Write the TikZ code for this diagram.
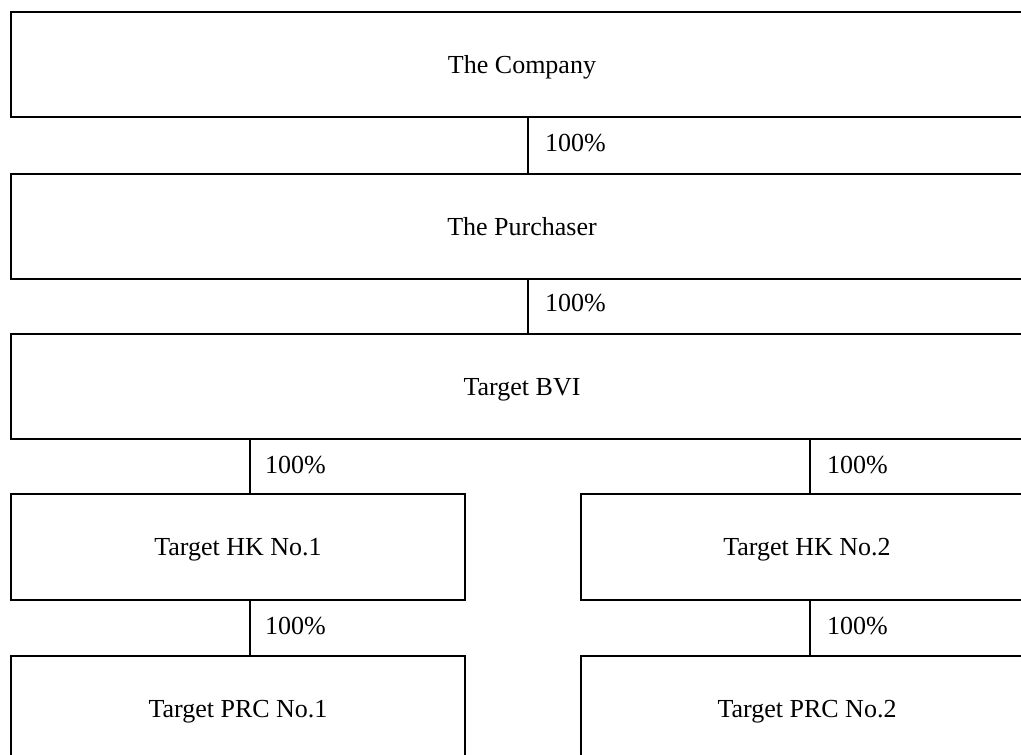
\documentclass[tikz,border=0pt]{standalone}
\usepackage{fontspec}
\setmainfont{Liberation Serif}
\begin{document}
\begin{tikzpicture}[x=1pt,y=-1pt,
  box/.style={draw,line width=2pt,inner sep=0pt,anchor=north west,text height=17.2pt,text depth=0pt,font=\fontsize{26}{30}\selectfont},
  pct/.style={anchor=west,inner sep=0pt,text height=17.2pt,text depth=0pt,font=\fontsize{26}{30}\selectfont},
  link/.style={line width=1.8pt}]
\useasboundingbox (0,0) rectangle (1021,755);
\clip (0,0) rectangle (1021,755);
\node[box,minimum width=1022pt,minimum height=105pt] (co) at (10,11) {The Company};
\node[box,minimum width=1022pt,minimum height=105pt] (pu) at (10,173) {The Purchaser};
\node[box,minimum width=1022pt,minimum height=105pt] (bvi) at (10,333) {Target BVI};
\node[box,minimum width=454pt,minimum height=106pt] (hk1) at (10,493) {Target HK No.1};
\node[box,minimum width=452pt,minimum height=106pt] (hk2) at (580,493) {Target HK No.2};
\node[box,minimum width=454pt,minimum height=106pt] (prc1) at (10,655) {Target PRC No.1};
\node[box,minimum width=452pt,minimum height=106pt] (prc2) at (580,655) {Target PRC No.2};
\coordinate (cm) at (528,0);
\coordinate (cl) at (250,0);
\coordinate (cr) at (810,0);
\draw[link] (co.south -| cm) -- (pu.north -| cm);
\draw[link] (pu.south -| cm) -- (bvi.north -| cm);
\draw[link] (bvi.south -| cl) -- (hk1.north -| cl);
\draw[link] (bvi.south -| cr) -- (hk2.north -| cr);
\draw[link] (hk1.south -| cl) -- (prc1.north -| cl);
\draw[link] (hk2.south -| cr) -- (prc2.north -| cr);
\node[pct] (p1) at (545,143) {100\%};
\node[pct] (p2) at (545,303) {100\%};
\node[pct] (p3) at (265,465) {100\%};
\node[pct] (p4) at (827,465) {100\%};
\node[pct] (p5) at (265,626) {100\%};
\node[pct] (p6) at (827,626) {100\%};
\end{tikzpicture}
\end{document}
